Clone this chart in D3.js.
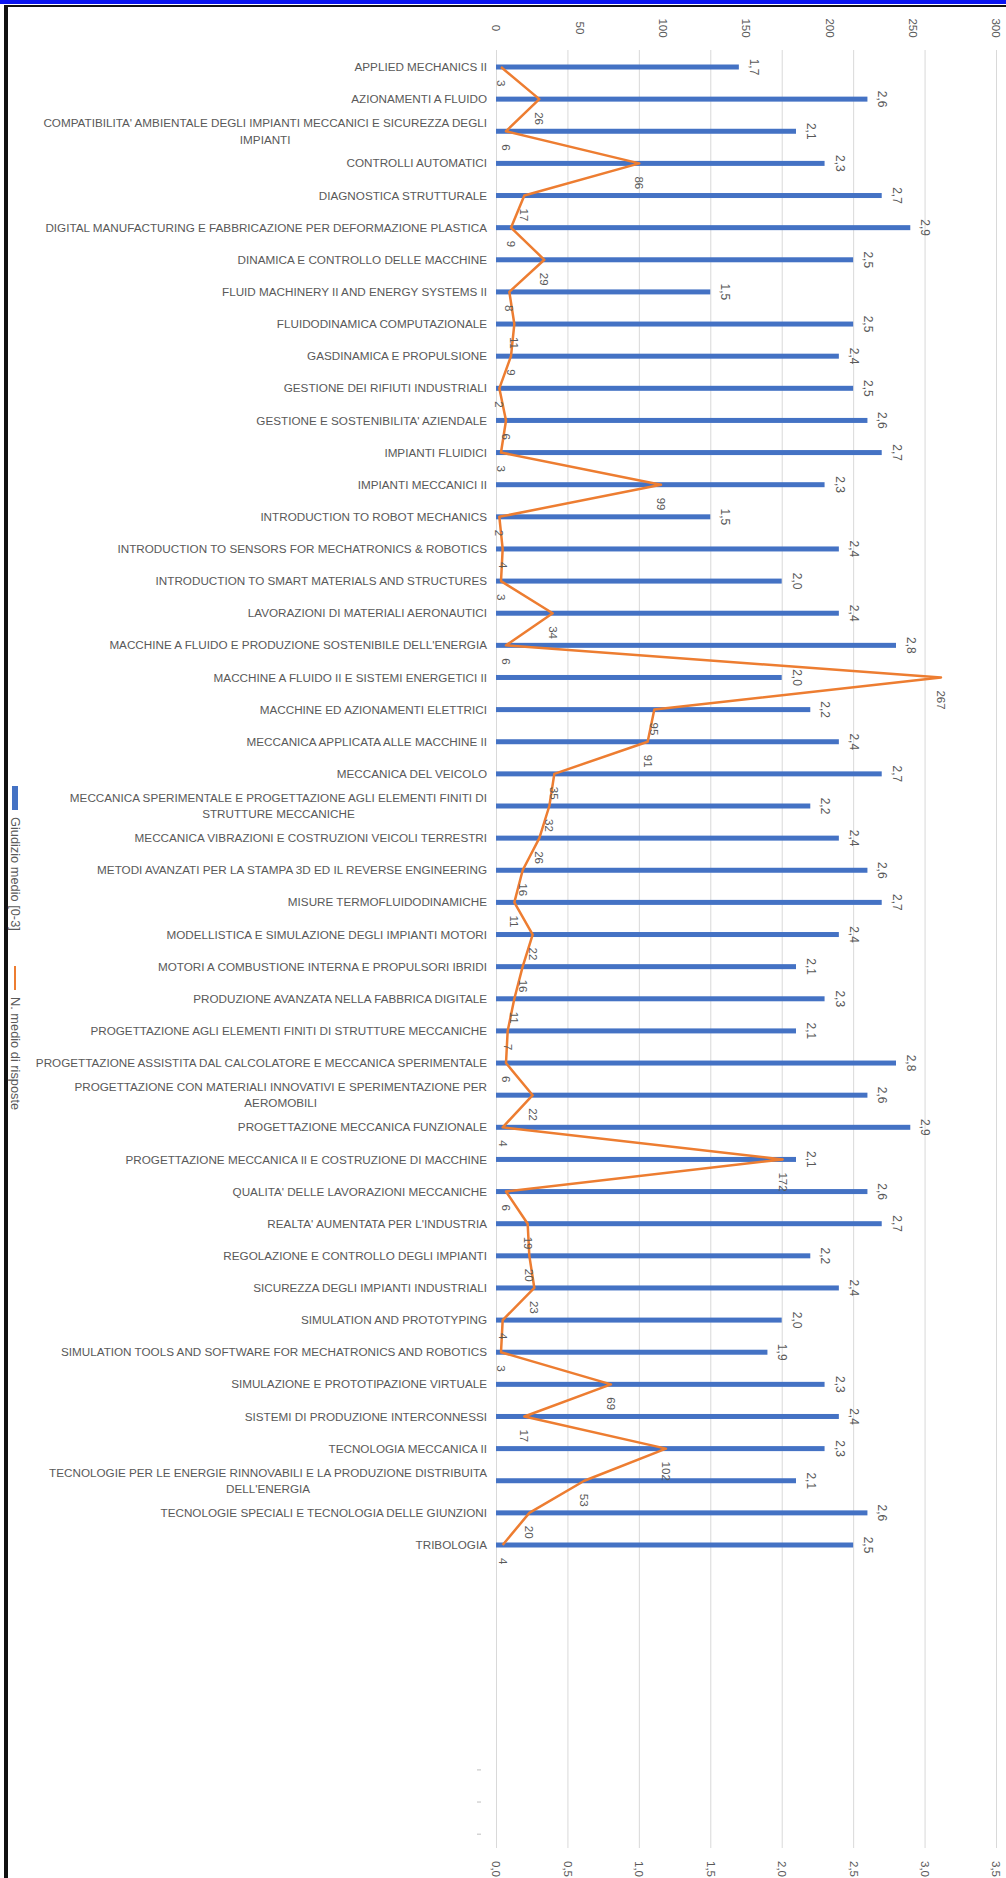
<!DOCTYPE html>
<html lang="it">
<head>
<meta charset="utf-8">
<title>Giudizio medio e numero di risposte</title>
<script src="https://cdn.jsdelivr.net/npm/d3@7"></script>
<style>
  body { margin: 0; background: #fff; }
  svg { display: block; font-family: "Liberation Sans", Arial, sans-serif; }
  .grid line { stroke: #d9d9d9; stroke-width: 1; }
  .grid path { display: none; }
  .ax path, .ax line { display: none; }
  .ax text { fill: #595959; font-size: 11.5px; }
</style>
</head>
<body>
<script>
// corsi (le etichette su due righe sono separate da "|")
var categories = [
  "APPLIED MECHANICS II",
  "AZIONAMENTI A FLUIDO",
  "COMPATIBILITA' AMBIENTALE DEGLI IMPIANTI MECCANICI E SICUREZZA DEGLI|IMPIANTI",
  "CONTROLLI AUTOMATICI",
  "DIAGNOSTICA STRUTTURALE",
  "DIGITAL MANUFACTURING E FABBRICAZIONE PER DEFORMAZIONE PLASTICA",
  "DINAMICA E CONTROLLO DELLE MACCHINE",
  "FLUID MACHINERY II AND ENERGY SYSTEMS II",
  "FLUIDODINAMICA COMPUTAZIONALE",
  "GASDINAMICA E PROPULSIONE",
  "GESTIONE DEI RIFIUTI INDUSTRIALI",
  "GESTIONE E SOSTENIBILITA' AZIENDALE",
  "IMPIANTI FLUIDICI",
  "IMPIANTI MECCANICI II",
  "INTRODUCTION TO ROBOT MECHANICS",
  "INTRODUCTION TO SENSORS FOR MECHATRONICS & ROBOTICS",
  "INTRODUCTION TO SMART MATERIALS AND STRUCTURES",
  "LAVORAZIONI DI MATERIALI AERONAUTICI",
  "MACCHINE A FLUIDO E PRODUZIONE SOSTENIBILE DELL'ENERGIA",
  "MACCHINE A FLUIDO II E SISTEMI ENERGETICI II",
  "MACCHINE ED AZIONAMENTI ELETTRICI",
  "MECCANICA APPLICATA ALLE MACCHINE II",
  "MECCANICA DEL VEICOLO",
  "MECCANICA SPERIMENTALE E PROGETTAZIONE AGLI ELEMENTI FINITI DI|STRUTTURE MECCANICHE",
  "MECCANICA VIBRAZIONI E COSTRUZIONI VEICOLI TERRESTRI",
  "METODI AVANZATI PER LA STAMPA 3D ED IL REVERSE ENGINEERING",
  "MISURE TERMOFLUIDODINAMICHE",
  "MODELLISTICA  E SIMULAZIONE DEGLI IMPIANTI MOTORI",
  "MOTORI A COMBUSTIONE INTERNA E PROPULSORI IBRIDI",
  "PRODUZIONE AVANZATA NELLA FABBRICA DIGITALE",
  "PROGETTAZIONE AGLI ELEMENTI FINITI DI STRUTTURE MECCANICHE",
  "PROGETTAZIONE ASSISTITA DAL CALCOLATORE E MECCANICA SPERIMENTALE",
  "PROGETTAZIONE CON MATERIALI INNOVATIVI E SPERIMENTAZIONE PER|AEROMOBILI",
  "PROGETTAZIONE MECCANICA FUNZIONALE",
  "PROGETTAZIONE MECCANICA II E COSTRUZIONE DI MACCHINE",
  "QUALITA' DELLE LAVORAZIONI MECCANICHE",
  "REALTA' AUMENTATA PER L'INDUSTRIA",
  "REGOLAZIONE E CONTROLLO DEGLI IMPIANTI",
  "SICUREZZA DEGLI IMPIANTI INDUSTRIALI",
  "SIMULATION AND PROTOTYPING",
  "SIMULATION TOOLS AND SOFTWARE FOR MECHATRONICS AND ROBOTICS",
  "SIMULAZIONE E PROTOTIPAZIONE VIRTUALE",
  "SISTEMI DI PRODUZIONE INTERCONNESSI",
  "TECNOLOGIA MECCANICA II",
  "TECNOLOGIE PER LE ENERGIE RINNOVABILI E LA PRODUZIONE DISTRIBUITA|DELL'ENERGIA",
  "TECNOLOGIE SPECIALI E TECNOLOGIA DELLE GIUNZIONI",
  "TRIBOLOGIA"
];

// Giudizio medio [0-3]
var giudizio = [1.7, 2.6, 2.1, 2.3, 2.7, 2.9, 2.5, 1.5, 2.5, 2.4, 2.5, 2.6, 2.7, 2.3, 1.5, 2.4,
  2.0, 2.4, 2.8, 2.0, 2.2, 2.4, 2.7, 2.2, 2.4, 2.6, 2.7, 2.4, 2.1, 2.3, 2.1, 2.8, 2.6, 2.9,
  2.1, 2.6, 2.7, 2.2, 2.4, 2.0, 1.9, 2.3, 2.4, 2.3, 2.1, 2.6, 2.5];

// N. medio di risposte
var risposte = [3, 26, 6, 86, 17, 9, 29, 8, 11, 9, 2, 6, 3, 99, 2, 4,
  3, 34, 6, 267, 95, 91, 35, 32, 26, 16, 11, 22, 16, 11, 7, 6, 22, 4,
  172, 6, 19, 20, 23, 4, 3, 69, 17, 102, 53, 20, 4];

var giudizioTicks = [0, 0.5, 1, 1.5, 2, 2.5, 3, 3.5];
var risposteTicks = [0, 50, 100, 150, 200, 250, 300];
var legendLabels = ["Giudizio medio [0-3]", "N. medio di risposte"];

var W = 1006, H = 1878;
var blue = "#4472c4", orange = "#ed7d31", grey = "#595959";

var svg = d3.select("body").append("svg").attr("width", W).attr("height", H);

// cornice dello screenshot
svg.append("rect").attr("x", 0).attr("y", 0).attr("width", W).attr("height", 4).attr("fill", "#0a14f0");
svg.append("rect").attr("x", 4).attr("y", 5).attr("width", W - 4).attr("height", 2).attr("fill", "#111");
svg.append("rect").attr("x", 4).attr("y", 5).attr("width", 4).attr("height", H - 5).attr("fill", "#111");

var xVal = d3.scaleLinear().domain([0, 3.5]).range([496, 996]);
var xCnt = d3.scaleLinear().domain([0, 300]).range([496, 996]);
var y = d3.scalePoint().domain(categories).range([67, 1545]);

var comma = function(d) { return d3.format(".1f")(d).replace(".", ","); };

// griglia
svg.append("g").attr("class", "grid")
  .attr("transform", "translate(0,1848)")
  .call(d3.axisBottom(xVal).tickValues(giudizioTicks).tickSize(-(1848 - 50)).tickFormat(""));

// asse in alto (risposte)
var axTop = svg.append("g").attr("class", "ax").attr("transform", "translate(0,28)")
  .call(d3.axisTop(xCnt).tickValues(risposteTicks).tickSize(0));
axTop.selectAll("text").attr("x", 0).attr("y", 0).attr("dy", "0.35em")
  .attr("text-anchor", "middle").attr("transform", "rotate(90)");

// asse in basso (giudizio)
var axBot = svg.append("g").attr("class", "ax").attr("transform", "translate(0,1861)")
  .call(d3.axisBottom(xVal).tickValues(giudizioTicks).tickSize(0).tickFormat(comma));
axBot.selectAll("text").attr("x", 0).attr("y", 0).attr("dy", "0.35em")
  .attr("text-anchor", "start").attr("transform", "rotate(90)");

// piccoli segni residui dell'asse categorie
var step = y.step();
svg.append("g").selectAll("line").data([7, 8, 9]).enter().append("line")
  .attr("x1", 477).attr("x2", 481)
  .attr("y1", function(k) { return y.range()[1] + k * step; })
  .attr("y2", function(k) { return y.range()[1] + k * step; })
  .attr("stroke", "#bfbfbf");

// etichette categorie
var labG = svg.append("g").attr("fill", grey).attr("font-size", "11.7px");
categories.forEach(function(c) {
  var lines = c.split("|");
  var t = labG.append("text").attr("y", y(c));
  if (lines.length === 1) {
    t.attr("x", 487).attr("text-anchor", "end").attr("dy", "0.35em").text(c);
  } else {
    lines.forEach(function(l, i) {
      t.append("tspan").attr("dy", i === 0 ? "-0.35em" : "1.4em").text(l);
    });
    t.attr("text-anchor", "middle");
    var w = d3.max(t.selectAll("tspan").nodes(), function(n) { return n.getComputedTextLength(); });
    t.selectAll("tspan").attr("x", 487 - w / 2);
  }
});

var data = categories.map(function(c, i) { return { c: c, g: giudizio[i], n: risposte[i] }; });

// barre
svg.append("g").selectAll("rect").data(data).enter().append("rect")
  .attr("x", xVal(0))
  .attr("y", function(d) { return y(d.c) - 2.5; })
  .attr("width", function(d) { return xVal(d.g) - xVal(0); })
  .attr("height", 5)
  .attr("fill", blue);

// valori barre
svg.append("g").attr("fill", grey).attr("font-size", "12px").selectAll("text").data(data).enter().append("text")
  .attr("text-anchor", "middle")
  .attr("transform", function(d) { return "translate(" + (xVal(d.g) + 11) + "," + y(d.c) + ") rotate(90)"; })
  .text(function(d) { return comma(d.g); });

// linea risposte
svg.append("path").datum(data)
  .attr("fill", "none").attr("stroke", orange).attr("stroke-width", 2.5).attr("stroke-linejoin", "round")
  .attr("d", d3.line().x(function(d) { return xCnt(d.n); }).y(function(d) { return y(d.c); }));

// valori linea
svg.append("g").attr("fill", grey).attr("font-size", "11.5px").selectAll("text").data(data).enter().append("text")
  .attr("text-anchor", "start").attr("dy", "0.35em")
  .attr("transform", function(d) { return "translate(" + xCnt(d.n) + "," + (y(d.c) + 13) + ") rotate(90)"; })
  .text(function(d) { return d.n; });

// legenda (ruotata)
var leg = svg.append("g").attr("fill", grey).attr("font-size", "12.8px");
leg.append("rect").attr("x", 12).attr("y", 786).attr("width", 6).attr("height", 24).attr("fill", blue);
leg.append("text").attr("transform", "translate(15,817) rotate(90)").attr("dy", "0.35em").text(legendLabels[0]);
leg.append("line").attr("x1", 15).attr("x2", 15).attr("y1", 966).attr("y2", 990)
  .attr("stroke", orange).attr("stroke-width", 2);
leg.append("text").attr("transform", "translate(15,997) rotate(90)").attr("dy", "0.35em").text(legendLabels[1]);
</script>
</body>
</html>
